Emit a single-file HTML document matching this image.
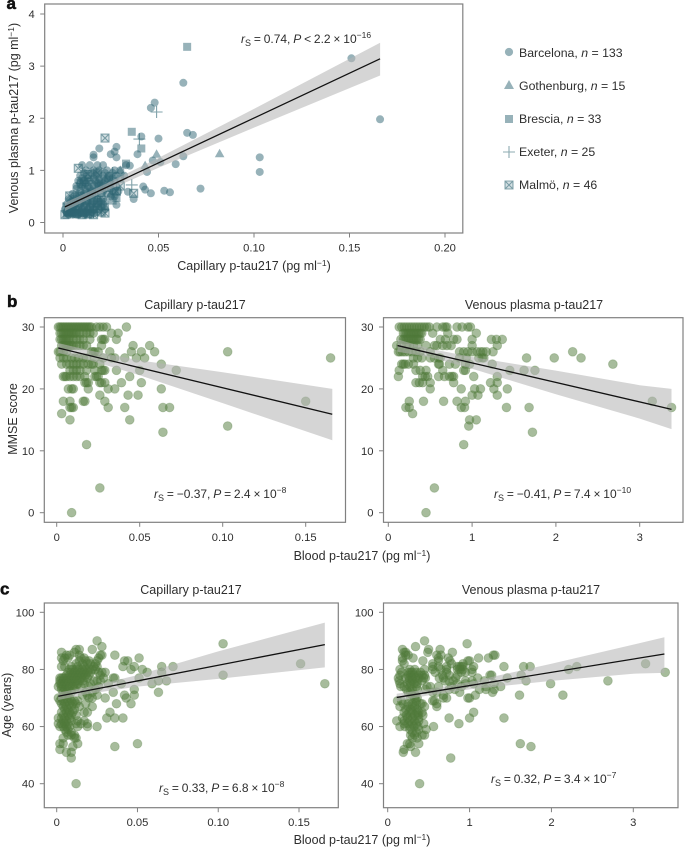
<!DOCTYPE html>
<html lang="en">
<head>
<meta charset="utf-8">
<title>p-tau217 correlation figure</title>
<style>
html,body{margin:0;padding:0;background:#fff;width:685px;height:847px;overflow:hidden}
svg{display:block}
text{font-family:"Liberation Sans",sans-serif;fill:#2e2e2e}
.lbl{font-size:12.5px}
.leg{font-size:12.3px}
.tick{font-size:11.2px}
.panel{font-size:17px;font-weight:bold;fill:#111;stroke:#111;stroke-width:.5px}
.sub{font-size:9px}
.sup{font-size:8.5px}
.stat{font-size:12px;word-spacing:-.5px}
</style>
</head>
<body>
<svg id="fig" xmlns="http://www.w3.org/2000/svg" width="685" height="847" viewBox="0 0 685 847">
  <text class="panel" x="6.5" y="9">a</text>
  <text class="panel" x="7" y="307">b</text>
  <text class="panel" x="0" y="594.5">c</text>

  <text class="lbl" x="254" y="270" text-anchor="middle">Capillary p-tau217 (pg ml<tspan class="sup" dy="-4">−1</tspan><tspan dy="4">)</tspan></text>
  <text class="lbl" transform="translate(18,118) rotate(-90)" text-anchor="middle">Venous plasma p-tau217 (pg ml<tspan class="sup" dy="-4">−1</tspan><tspan dy="4">)</tspan></text>
  <text class="stat" x="241" y="43"><tspan font-style="italic">r</tspan><tspan class="sub" dy="3">S</tspan><tspan dy="-3"> = 0.74, </tspan><tspan font-style="italic">P</tspan> &lt; 2.2 × 10<tspan class="sup" dy="-5">−16</tspan></text>

  <text class="lbl" x="195" y="309" text-anchor="middle">Capillary p-tau217</text>
  <text class="lbl" x="534" y="309" text-anchor="middle">Venous plasma p-tau217</text>
  <text class="lbl" transform="translate(17,419) rotate(-90)" text-anchor="middle">MMSE score</text>
  <text class="lbl" x="362" y="560" text-anchor="middle">Blood p-tau217 (pg ml<tspan class="sup" dy="-4">−1</tspan><tspan dy="4">)</tspan></text>
  <text class="stat" x="154" y="498"><tspan font-style="italic">r</tspan><tspan class="sub" dy="3">S</tspan><tspan dy="-3"> = −0.37, </tspan><tspan font-style="italic">P</tspan> = 2.4 × 10<tspan class="sup" dy="-5">−8</tspan></text>
  <text class="stat" x="494" y="498"><tspan font-style="italic">r</tspan><tspan class="sub" dy="3">S</tspan><tspan dy="-3"> = −0.41, </tspan><tspan font-style="italic">P</tspan> = 7.4 × 10<tspan class="sup" dy="-5">−10</tspan></text>

  <text class="lbl" x="191" y="594" text-anchor="middle">Capillary p-tau217</text>
  <text class="lbl" x="531" y="594" text-anchor="middle">Venous plasma p-tau217</text>
  <text class="lbl" transform="translate(11,705) rotate(-90)" text-anchor="middle">Age (years)</text>
  <text class="lbl" x="362" y="844" text-anchor="middle">Blood p-tau217 (pg ml<tspan class="sup" dy="-4">−1</tspan><tspan dy="4">)</tspan></text>
  <text class="stat" x="159" y="792"><tspan font-style="italic">r</tspan><tspan class="sub" dy="3">S</tspan><tspan dy="-3"> = 0.33, </tspan><tspan font-style="italic">P</tspan> = 6.8 × 10<tspan class="sup" dy="-5">−8</tspan></text>
  <text class="stat" x="491" y="783"><tspan font-style="italic">r</tspan><tspan class="sub" dy="3">S</tspan><tspan dy="-3"> = 0.32, </tspan><tspan font-style="italic">P</tspan> = 3.4 × 10<tspan class="sup" dy="-5">−7</tspan></text>

  <g id="legend">
    <circle cx="509" cy="52" r="4.1" fill="#2f6673" fill-opacity=".5"/>
    <text class="leg" x="519" y="57">Barcelona, <tspan font-style="italic">n</tspan> = 133</text>
    <polygon points="509,80 514,89 504,89" fill="#2f6673" fill-opacity=".5"/>
    <text class="leg" x="519" y="90">Gothenburg, <tspan font-style="italic">n</tspan> = 15</text>
    <rect x="505" y="115" width="8" height="8" fill="#2f6673" fill-opacity=".5"/>
    <text class="leg" x="519" y="123">Brescia, <tspan font-style="italic">n</tspan> = 33</text>
    <path d="M503,152H515M509,146V158" stroke="#2f6673" stroke-opacity=".55" stroke-width="1.1" fill="none"/>
    <text class="leg" x="519" y="156">Exeter, <tspan font-style="italic">n</tspan> = 25</text>
    <path d="M505,181h8v8h-8zM505,181l8,8M513,181l-8,8" stroke="#2f6673" stroke-opacity=".55" stroke-width="1.1" fill="#2f6673" fill-opacity=".2"/>
    <text class="leg" x="519" y="189">Malmö, <tspan font-style="italic">n</tspan> = 46</text>
  </g>
</svg>
<script>
/* ---------- Panel a values ---------- */
const capTicks=[0,0.05,0.10,0.15];
const capTicksA=[0,0.05,0.10,0.15,0.20];
const capTickLabels=["0","0.05","0.10","0.15"];
const capTickLabelsA=["0","0.05","0.10","0.15","0.20"];
const venTicks=[0,1,2,3];
const venTickLabels=["0","1","2","3"];
const venPlasmaTicks=[0,1,2,3,4];
const venPlasmaTickLabels=["0","1","2","3","4"];
const mmseTicks=[0,10,20,30];
const mmseTickLabels=["0","10","20","30"];
const ageTicks=[40,60,80,100];
const ageTickLabels=["40","60","80","100"];

const barcelonaCap=[
.063,.048,.046,.065,.068,.050,.041,.028,.019,.016,.016,.027,.025,.028,.039,.063,.047,.051,.059,.035,.044,.042,.043,.046,.053,.056,.072,.034,.037,.028,.103,.103,.151,.166,
.010,.014,.018,.021,.033,
.012,.016,.019,.023,.027,.030,
.009,.013,.017,.021,.024,.028,.032,
.008,.011,.014,.017,.019,.022,.027,
.007,.010,.013,.016,.019,.024,.028,
.009,.012,.015,.021,.026,.029,
.006,.010,.014,.018,.025,.027,
.004,.007,.010,.013,.016,.019,.022,
.003,.005,.008,.011,.014,.017,.020,
.002,.004,.006,.009,.012,.015,.018,
.003,.005,.007,.008,.011,
.003,.005,.007,.009,.012,.015,.018,.021,
.002,.004,.006,.009,.012,.015,.018,.021,
.001,.003,.005,.007,.010,.013,.016,.019,.022,
.002,.004,.006,.008,.010,.012,.014,.016,
.005,.008,.011,.014,.017,.020,.023,
.007,.011,.014,.018,.022,.025,
.009,.012,.015,.018,.021,.025,
.010,.013,.016,.019,.023,.026,
.011,.015,.018,.022,.026];
const barcelonaVen=[
2.68,2.30,2.20,1.72,1.68,1.61,1.65,1.45,1.42,1.30,1.25,1.36,1.31,1.25,1.31,1.27,1.19,1.16,1.12,1.09,0.97,0.69,0.63,0.56,0.61,0.58,0.65,0.59,0.45,0.34,1.25,0.97,3.15,1.98,
1.1,1.1,1.1,1.1,1.1,
1.0,1.0,1.0,1.0,1.0,1.0,
.9,.9,.9,.9,.9,.9,.9,
.8,.8,.8,.8,.8,.8,.8,
.7,.7,.7,.7,.7,.7,.7,
.6,.6,.6,.6,.6,.6,
.5,.5,.5,.5,.5,.5,
.4,.4,.4,.4,.4,.4,.4,
.3,.3,.3,.3,.3,.3,.3,
.2,.2,.2,.2,.2,.2,.2,
.15,.15,.15,.15,.15,
.45,.45,.45,.45,.45,.45,.45,.45,
.35,.35,.35,.35,.35,.35,.35,.35,
.25,.25,.25,.25,.25,.25,.25,.25,.25,
.18,.18,.18,.18,.18,.18,.18,.18,
.55,.55,.55,.55,.55,.55,.55,
.65,.65,.65,.65,.65,.65,
.75,.75,.75,.75,.75,.75,
.85,.85,.85,.85,.85,.85,
.95,.95,.95,.95,.95];
const gothenburgCap=[.082,.049,.043,.005,.010,.015,.020,.008,.025,.012,.003,.030];
const gothenburgVen=[1.32,1.31,1.09,.25,.30,.42,.70,.50,.55,.20,.20,1.0];
const bresciaCap=[.065,.036,.041,.033,.028,.026,.002,.004,.006,.008,.010,.013,.014,.016,.018,.020,.022,.003,.005,.009,.012,.015,.020,.024,.027,.030,.011];
const bresciaVen=[3.37,1.74,1.42,1.13,.47,.42,.15,.20,.18,.25,.20,.15,.30,.25,.35,.40,.30,.30,.35,.40,.50,.60,.75,.85,.60,.85,.18];
const exeterCap=[.049,.040,.036,.012,.010,.006,.008,.014,.018,.004,.020,.022,.026,.016];
const exeterVen=[2.12,1.60,.72,.80,.75,.30,.45,.35,.50,.25,.25,.60,.95,.20];
const malmoCap=[.022,.008,.0035,.037,.022,.0095,.001,.003,.007,.010,.012,.014,.016,.018,.020,.005,.009,.012,.024,.013,.011,.028,.030,.002,.006,.015,.018,.019];
const malmoVen=[1.62,1.04,.51,.56,.18,.75,.15,.20,.17,.15,.30,.17,.15,.38,.20,.30,.50,.45,.80,.92,.78,.60,.70,.30,.40,.55,.95,.70];
const aFitCap=[.001,.166];
const aFitVen=[.30,3.14];
const aBandCap=[.001,.02,.05,.10,.166];
const aBandUpper=[.38,.70,1.24,2.18,3.45];
const aBandLower=[.22,.56,1.05,1.82,2.82];

/* ---------- Panel b values ---------- */
const bLeftCap=[
.001,.002,.003,.004,.005,.006,.007,.008,.009,.010,.011,.012,.013,.014,.015,.016,.017,.018,.019,.020,.021,.024,.026,.028,.030,.042,
.002,.003,.004,.005,.006,.007,.008,.009,.010,.011,.012,.014,.016,.018,.020,.022,.033,.037,
.002,.003,.004,.005,.006,.007,.008,.010,.012,.014,.016,.020,.027,.028,.029,.036,
.003,.004,.005,.006,.007,.008,.009,.010,.012,.014,.016,.018,.027,.046,.056,
.001,.002,.004,.006,.021,.022,.023,.025,.032,.045,.051,.059,.103,
.002,.004,.006,.009,.011,.013,.016,.018,.023,.028,.033,.035,.041,.048,.053,.165,
.003,.006,.008,.010,.012,.014,.016,.019,.021,.022,.026,.063,
.008,.010,.012,.014,.018,.023,.027,.028,.029,.036,.050,.072,
.004,.005,.006,.008,.010,.012,.014,.017,.023,.024,.025,.044,
.017,.018,.019,.026,.027,.029,.039,.051,
.007,.009,.010,.019,.031,.035,.063,
.026,.043,.049,
.004,.008,.016,.017,.029,.150,
.008,.009,.010,.031,.041,.064,.068,
.003,
.008,.044,
.103,.064,.018,.026,.009];
const bLeftMmse=[
30,30,30,30,30,30,30,30,30,30,30,30,30,30,30,30,30,30,30,30,30,30,30,30,30,30,
29,29,29,29,29,29,29,29,29,29,29,29,29,29,29,29,29,29,
28,28,28,28,28,28,28,28,28,28,28,28,28,28,28,28,
27,27,27,27,27,27,27,27,27,27,27,27,27,27,27,
26,26,26,26,26,26,26,26,26,26,26,26,26,
25,25,25,25,25,25,25,25,25,25,25,25,25,25,25,25,
24,24,24,24,24,24,24,24,24,24,24,24,
23,23,23,23,23,23,23,23,23,23,23,23,
22,22,22,22,22,22,22,22,22,22,22,22,
21,21,21,21,21,21,21,21,
20,20,20,20,20,20,20,
19,19,19,
18,18,18,18,18,18,
17,17,17,17,17,17,17,
16,
15,15,
14,13,11,4,0];
const bLeftFitX=[.001,.166];
const bLeftFitY=[26.6,15.9];
const bLeftBandX=[.001,.02,.05,.10,.166];
const bLeftBandUpper=[27.4,26.2,24.6,22.7,20.0];
const bLeftBandLower=[25.8,24.6,22.2,17.7,11.7];

const bRightVen=[
.13,.16,.19,.22,.25,.28,.31,.34,.37,.40,.43,.46,.49,.58,.65,.68,.70,.82,.88,.95,.98,
.18,.2,.22,.24,.26,.28,.3,.32,.34,.36,.38,.4,.53,.71,1.05,
.15,.18,.2,.22,.24,.26,.28,.3,.32,.34,.36,.38,.62,.68,.78,.82,1.0,1.23,1.29,1.36,
.1,.15,.22,.25,.3,.35,.45,.55,.58,.65,.7,.75,1.0,1.3,
.12,.14,.17,.2,.24,.28,.33,.38,.5,.85,.9,.95,1.0,1.06,1.1,1.13,1.17,1.25,2.2,
.3,.35,.4,.5,.55,.6,.62,.85,.93,1.08,1.12,1.14,1.65,1.98,2.3,
.16,.18,.2,.24,.3,.6,.61,.73,.8,.92,.97,1.24,2.68,
.13,.33,.38,.45,.65,.9,.92,1.45,1.62,1.75,
.12,.41,.44,.47,.6,.67,.73,.76,.78,1.02,1.3,
.33,.37,.41,.5,.78,1.22,1.3,
.5,.87,1.03,1.1,1.26,1.42,
1.0,1.07,1.3,
.25,.42,.66,.82,.92,3.15,
.21,.25,.87,.91,1.41,1.68,3.38,
.29,
.97,1.05,
.96,1.72,.9,.55,.45];
const bRightMmse=[
30,30,30,30,30,30,30,30,30,30,30,30,30,30,30,30,30,30,30,30,30,
29,29,29,29,29,29,29,29,29,29,29,29,29,29,29,
28,28,28,28,28,28,28,28,28,28,28,28,28,28,28,28,28,28,28,28,
27,27,27,27,27,27,27,27,27,27,27,27,27,27,
26,26,26,26,26,26,26,26,26,26,26,26,26,26,26,26,26,26,26,
25,25,25,25,25,25,25,25,25,25,25,25,25,25,25,
24,24,24,24,24,24,24,24,24,24,24,24,24,
23,23,23,23,23,23,23,23,23,23,
22,22,22,22,22,22,22,22,22,22,22,
21,21,21,21,21,21,21,
20,20,20,20,20,20,
19,19,19,
18,18,18,18,18,18,
17,17,17,17,17,17,17,
16,
15,15,
14,13,11,4,0];
const bRightFitX=[.11,3.38];
const bRightFitY=[27.0,16.7];
const bRightBandX=[.11,.5,1,2,3,3.38];
const bRightBandUpper=[28,26.5,25.15,22.95,20.6,20];
const bRightBandLower=[26,25.1,23.25,19.15,15.2,13.5];

/* ---------- Panel c values ---------- */
const cLeftCap=[
.025,.103,.028,
.012,.014,.022,
.003,.011,
.006,.008,.014,.027,.028,.036,
.003,.005,.007,.015,.017,.026,.051,
.004,.014,.018,.020,.025,.042,.044,
.012,.016,.019,.021,.024,.151,
.003,.005,.009,.013,.017,.023,.025,.041,.048,.065,.072,
.008,.010,.012,.014,.016,.018,.020,.022,.024,.046,.053,
.007,.009,.011,.013,.015,.017,.019,.021,.026,.028,.030,.056,.065,
.006,.008,.010,.012,.014,.016,.018,.020,.027,.103,
.002,.003,.004,.005,.007,.009,.011,.013,.015,.017,.019,.029,.035,.036,.051,
.002,.004,.006,.008,.010,.012,.014,.016,.023,.025,.027,.063,.068,
.002,.003,.005,.007,.009,.011,.013,.017,.021,.032,.040,.059,.166,
.001,.003,.004,.006,.008,.010,.012,.015,.020,.026,
.003,.005,.007,.011,.024,.048,
.004,.006,.009,.018,.022,.035,.063,
.005,.007,.016,.019,.025,.042,.048,
.001,.003,.006,.008,.020,.022,.030,.043,
.002,.004,.007,.009,.011,.013,
.003,.005,.008,.010,.012,.018,.037,.046,
.004,.006,.009,.014,.022,
.005,.007,.011,
.003,.006,.008,.010,.017,.019,.033,
.004,.007,.009,.012,
.001,.003,.005,.008,.031,.036,.041,
.004,.006,.009,.013,.017,
.001,.003,.005,.007,.012,.015,.019,
.002,.004,.006,.008,.013,.019,.025,
.005,.007,
.006,.009,
.007,.009,.011,
.004,.011,.012,
.002,.004,.013,.050,
.010,.036,
.002,
.006,.009,
.009,.012];
const cLeftAge=[
90,89,88,
87,87,87,
86,86,
85,85,85,85,85,85,
84,84,84,84,84,84,84,
83,83,83,83,83,83,83,
82,82,82,82,82,82,
81,81,81,81,81,81,81,81,81,81,81,
80,80,80,80,80,80,80,80,80,80,80,
79,79,79,79,79,79,79,79,79,79,79,79,79,
78,78,78,78,78,78,78,78,78,78,
77,77,77,77,77,77,77,77,77,77,77,77,77,77,77,
76,76,76,76,76,76,76,76,76,76,76,76,76,
75,75,75,75,75,75,75,75,75,75,75,75,75,
74,74,74,74,74,74,74,74,74,74,
73,73,73,73,73,73,
72,72,72,72,72,72,72,
71,71,71,71,71,71,71,
70,70,70,70,70,70,70,70,
69,69,69,69,69,69,
68,68,68,68,68,68,68,68,
67,67,67,67,67,
66,66,66,
65,65,65,65,65,65,65,
64,64,64,64,
63,63,63,63,63,63,63,
62,62,62,62,62,
61,61,61,61,61,61,61,
60,60,60,60,60,60,60,
59,59,
58,58,
57,57,57,
56,56,56,
54,54,54,54,
53,53,
52,
51,51,
49,40];
const cLeftFitX=[.001,.166];
const cLeftFitY=[70.6,88.7];
const cLeftBandX=[.001,.02,.05,.10,.166];
const cLeftBandUpper=[71.9,73.9,78,86.3,96.4];
const cLeftBandLower=[69.3,71.5,74,76.7,80.7];

const cRightVen=[
.45,.97,.34,
.18,.50,.64,
.20,.22,.49,.79,
.22,.25,.6,.65,1.29,1.31,
.18,.31,.62,.74,1.11,1.23,
.18,.43,.62,.76,.98,1.0,
.20,.55,.78,.92,3.15,
.55,.62,.72,.85,.88,.9,.92,1.05,1.42,1.66,1.74,2.31,
.15,.27,.33,.45,.55,.65,.72,.85,.88,.92,1.03,2.21,
.17,.25,.28,.3,.35,.4,.58,.72,.9,.95,1.03,3.39,
.15,.25,.28,.32,.38,.42,.45,.67,.75,.85,1.25,1.27,1.63,
.13,.22,.26,.3,.34,.38,.44,.46,.63,.68,.83,1.1,1.46,
.14,.26,.3,.36,.42,.7,.75,.8,.95,1.03,1.18,1.69,2.69,
.15,.24,.28,.32,.36,.85,.95,1.05,1.3,1.99,
.16,.2,.27,.35,.48,.52,.62,.78,.9,1.2,1.38,
.23,.3,.36,.46,.75,.82,1.12,1.2,1.3,
.25,.28,.55,.6,.88,1.28,
.3,.34,.68,1.07,1.61,2.14,
.28,.33,.36,.68,.72,.98,1.0,
.12,.17,.35,.55,.57,
.19,.25,.3,.35,.4,.42,.6,
.15,.25,.3,.33,.45,.6,
.22,.28,.36,
.2,.26,.3,.36,.38,.42,1.05,
.23,.28,.33,.37,.43,
.18,.24,.3,.38,.75,1.0,1.42,
.11,.2,.27,.33,.38,
.2,.25,.3,.35,.44,.87,
.15,.21,.27,.32,.37,.56,
.27,.38,.47,
.3,.35,
.28,.33,.42,.45,
.3,.36,
.24,.27,.38,1.62,
.28,1.75,
.2,
.19,.34,
.77,.39];
const cRightAge=[
90,89,88,
87,87,87,
86,86,86,86,
85,85,85,85,85,85,
84,84,84,84,84,84,
83,83,83,83,83,83,
82,82,82,82,82,
81,81,81,81,81,81,81,81,81,81,81,81,
80,80,80,80,80,80,80,80,80,80,80,80,
79,79,79,79,79,79,79,79,79,79,79,79,
78,78,78,78,78,78,78,78,78,78,78,78,78,
77,77,77,77,77,77,77,77,77,77,77,77,77,
76,76,76,76,76,76,76,76,76,76,76,76,76,
75,75,75,75,75,75,75,75,75,75,
74,74,74,74,74,74,74,74,74,74,74,
73,73,73,73,73,73,73,73,73,
72,72,72,72,72,72,
71,71,71,71,71,71,
70,70,70,70,70,70,70,
69,69,69,69,69,
68,68,68,68,68,68,68,
67,67,67,67,67,67,
66,66,66,
65,65,65,65,65,65,65,
64,64,64,64,64,
63,63,63,63,63,63,63,
62,62,62,62,62,
61,61,61,61,61,61,
60,60,60,60,60,60,
59,59,59,
58,58,
57,57,57,57,
56,56,
54,54,54,54,
53,53,
52,
51,51,
49,40];
const cRightFitX=[.11,3.38];
const cRightFitY=[70.2,85.4];
const cRightBandX=[.11,.5,1,2,3,3.38];
const cRightBandUpper=[71.5,73.1,75.6,82,88.7,91.3];
const cRightBandLower=[68.9,70.9,73,76,78.5,78.8];

/* ---------- Drawing ---------- */
const NS='http://www.w3.org/2000/svg';
const fig=document.getElementById('fig');
const legend=document.getElementById('legend');

function shape(tag,parent,attrs){
  const n=document.createElementNS(NS,tag);
  for(const k in attrs){n.setAttribute(k,attrs[k]);}
  parent.appendChild(n);
  return n;
}
function linear(d0,d1,r0,r1){
  return function(v){return r0+(v-d0)*(r1-r0)/(d1-d0);};
}
function drawFrame(g,box,prefix){
  const f=shape('rect',g,{x:box.l,y:box.t,width:box.r-box.l,height:box.b-box.t,fill:'none',stroke:'#808080','stroke-width':1.2});
  
  
}
function drawAxes(g,box,sx,sy,xVals,xLabels,yVals,yLabels,prefix){
  xVals.forEach(function(v,i){
    const t=shape('line',g,{x1:sx(v),x2:sx(v),y1:box.b,y2:box.b+4.5,stroke:'#808080','stroke-width':1});
    
    
    const l=shape('text',g,{x:sx(v),y:box.b+18.5,'text-anchor':'middle','class':'tick'});
    
    
    l.textContent=xLabels[i];
  });
  yVals.forEach(function(v,i){
    const t=shape('line',g,{x1:box.l-4.5,x2:box.l,y1:sy(v),y2:sy(v),stroke:'#808080','stroke-width':1});
    
    
    const l=shape('text',g,{x:box.l-10,y:sy(v)+4,'text-anchor':'end','class':'tick'});
    
    
    l.textContent=yLabels[i];
  });
}
function drawBandAndFit(g,sx,sy,bx,up,lo,fx,fy,prefix){
  let d='';
  bx.forEach(function(v,i){d+=(i?'L':'M')+sx(v).toFixed(1)+','+sy(up[i]).toFixed(1);});
  for(let i=bx.length-1;i>=0;i--){d+='L'+sx(bx[i]).toFixed(1)+','+sy(lo[i]).toFixed(1);}
  const b=shape('path',g,{d:d+'Z',fill:'#b4b4b4','fill-opacity':.56});
  
  
  const l=shape('line',g,{x1:sx(fx[0]),y1:sy(fy[0]),x2:sx(fx[1]),y2:sy(fy[1]),stroke:'#111','stroke-width':1.3});
  
  
}
function drawDots(g,sx,sy,xs,ys,prefix){
  const n=Math.min(xs.length,ys.length);
  for(let i=0;i<n;i++){
    const c=shape('circle',g,{cx:sx(xs[i]),cy:sy(ys[i]),r:4.4,fill:'#4f7a3a','fill-opacity':.5,stroke:'#4f7a3a','stroke-opacity':.3,'stroke-width':.9});
    
    
  }
}
const TEAL='#2f6673';
function drawSite(g,sx,sy,xs,ys,kind){
  const n=Math.min(xs.length,ys.length);
  for(let i=0;i<n;i++){
    const x=sx(xs[i]),y=sy(ys[i]);
    let m;
    if(kind==='barcelona'){
      m=shape('circle',g,{cx:x,cy:y,r:4,fill:TEAL,'fill-opacity':.5});
    }else if(kind==='gothenburg'){
      m=shape('polygon',g,{points:(x)+','+(y-5)+' '+(x+4.8)+','+(y+3.5)+' '+(x-4.8)+','+(y+3.5),fill:TEAL,'fill-opacity':.5});
    }else if(kind==='brescia'){
      m=shape('rect',g,{x:x-4,y:y-4,width:8,height:8,fill:TEAL,'fill-opacity':.5});
    }else if(kind==='exeter'){
      m=shape('path',g,{d:'M'+(x-6)+','+y+'H'+(x+6)+'M'+x+','+(y-6)+'V'+(y+6),stroke:TEAL,'stroke-opacity':.6,'stroke-width':1.1,fill:'none'});
    }else{
      m=shape('path',g,{d:'M'+(x-4)+','+(y-4)+'h8v8h-8zM'+(x-4)+','+(y-4)+'l8,8M'+(x+4)+','+(y-4)+'l-8,8',stroke:TEAL,'stroke-opacity':.55,'stroke-width':1.1,fill:TEAL,'fill-opacity':.2});
    }
    
    
  }
}

/* Panel a */
(function(){
  const box={l:44.7,r:462.8,t:4,b:233};
  const sx=linear(0,0.2,63,445);
  const sy=linear(0,4,222.5,14);
  const g=shape('g',fig,{});
  
  
  drawSite(g,sx,sy,barcelonaCap,barcelonaVen,'barcelona');
  drawSite(g,sx,sy,gothenburgCap,gothenburgVen,'gothenburg');
  drawSite(g,sx,sy,bresciaCap,bresciaVen,'brescia');
  drawSite(g,sx,sy,exeterCap,exeterVen,'exeter');
  drawSite(g,sx,sy,malmoCap,malmoVen,'malmo');
  drawBandAndFit(g,sx,sy,aBandCap,aBandUpper,aBandLower,aFitCap,aFitVen,'panel-a');
  drawFrame(g,box,'panel-a');
  drawAxes(g,box,sx,sy,capTicksA,capTickLabelsA,venPlasmaTicks,venPlasmaTickLabels,'panel-a');
})();

/* Panel b left */
(function(){
  const box={l:44.3,r:345.5,t:317.7,b:522.3};
  const sx=linear(0,0.15,56.7,305.7);
  const sy=linear(0,30,512.7,327);
  const g=shape('g',fig,{});
  
  
  drawDots(g,sx,sy,bLeftCap,bLeftMmse,'panel-b-left');
  drawBandAndFit(g,sx,sy,bLeftBandX,bLeftBandUpper,bLeftBandLower,bLeftFitX,bLeftFitY,'panel-b-left');
  drawFrame(g,box,'panel-b-left');
  drawAxes(g,box,sx,sy,capTicks,capTickLabels,mmseTicks,mmseTickLabels,'panel-b-left');
})();

/* Panel b right */
(function(){
  const box={l:383.5,r:683,t:317.7,b:522.3};
  const sx=linear(0,3,388.3,639.7);
  const sy=linear(0,30,512.7,327);
  const g=shape('g',fig,{});
  
  
  drawDots(g,sx,sy,bRightVen,bRightMmse,'panel-b-right');
  drawBandAndFit(g,sx,sy,bRightBandX,bRightBandUpper,bRightBandLower,bRightFitX,bRightFitY,'panel-b-right');
  drawFrame(g,box,'panel-b-right');
  drawAxes(g,box,sx,sy,venTicks,venTickLabels,mmseTicks,mmseTickLabels,'panel-b-right');
})();

/* Panel c left */
(function(){
  const box={l:44.3,r:338.3,t:603,b:807.7};
  const sx=linear(0,0.15,56.7,299);
  const sy=linear(40,100,783.7,612.3);
  const g=shape('g',fig,{});
  
  
  drawDots(g,sx,sy,cLeftCap,cLeftAge,'panel-c-left');
  drawBandAndFit(g,sx,sy,cLeftBandX,cLeftBandUpper,cLeftBandLower,cLeftFitX,cLeftFitY,'panel-c-left');
  drawFrame(g,box,'panel-c-left');
  drawAxes(g,box,sx,sy,capTicks,capTickLabels,ageTicks,ageTickLabels,'panel-c-left');
})();

/* Panel c right */
(function(){
  const box={l:383.5,r:678,t:603,b:807.7};
  const sx=linear(0,3,387.7,633.3);
  const sy=linear(40,100,783.7,612.3);
  const g=shape('g',fig,{});
  
  
  drawDots(g,sx,sy,cRightVen,cRightAge,'panel-c-right');
  drawBandAndFit(g,sx,sy,cRightBandX,cRightBandUpper,cRightBandLower,cRightFitX,cRightFitY,'panel-c-right');
  drawFrame(g,box,'panel-c-right');
  drawAxes(g,box,sx,sy,venTicks,venTickLabels,ageTicks,ageTickLabels,'panel-c-right');
})();
</script>
</body>
</html>
